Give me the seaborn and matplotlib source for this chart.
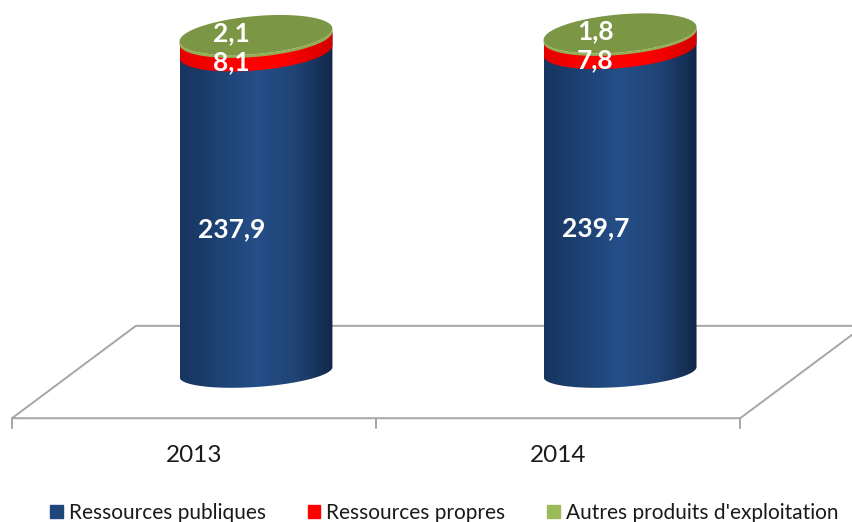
import numpy as np
import pandas as pd
import seaborn as sns
import matplotlib.pyplot as plt
from matplotlib.colors import LinearSegmentedColormap
from matplotlib.patches import Patch, Polygon

# data
years = ['2013', '2014']
series_names = ['Ressources publiques', 'Ressources propres', "Autres produits d'exploitation"]
publiques = [237.9, 239.7]
propres = [8.1, 7.8]
autres = [2.1, 1.8]
series_values = [publiques, propres, autres]

colors = ['#1f4679', '#ff0000', '#9bbb59']
label_shift = [-14, -14, 2.5]  # labels sit off-centre in the original

sns.set_theme(style='white')
plt.rcParams['font.family'] = ['Lato', 'DejaVu Sans']

fig = plt.figure(figsize=(8.52, 5.22), dpi=100)
ax = fig.add_axes([0, 0, 1, 1])
ax.axis('off')

df = pd.DataFrame({'year': years})
bottoms = np.zeros(len(years))
for name, vals, c in zip(series_names, series_values, colors):
    df[name] = vals
    sns.barplot(data=df, x='year', y=name, bottom=bottoms, color=c, width=0.42,
                saturation=1, ax=ax, zorder=2)
    bottoms = bottoms + np.array(vals)

XLIM = (-0.703, 1.637)
YLIM = (-110.4, 273.9)

# floor of the 3d chart
depth_x, depth_y = 0.17, 34
floor_color = '#a6a6a6'
left, right = -0.5, 1.5
ax.plot([left + depth_x, left - depth_x, right - depth_x, right + depth_x, left + depth_x],
        [depth_y, -depth_y, -depth_y, depth_y, depth_y], color=floor_color, lw=1.4, zorder=1)
for i in range(3):
    xt = left - depth_x + i
    ax.plot([xt, xt], [-depth_y, -depth_y - 7.5], color=floor_color, lw=1.4, zorder=1)
for i, year in enumerate(years):
    ax.text(i - depth_x, -61.5, year, ha='center', va='center', fontsize=17.5, color='#1a1a1a')

body_cmap = LinearSegmentedColormap.from_list(
    'body', ['#17345f', '#1d4273', '#254f88', '#204475', '#11284a'])
band_cmap = LinearSegmentedColormap.from_list(
    'band', ['#e80000', '#ff0000', '#ff0000', '#d40000'])


def ring(xc, half_w, level, t):
    # tilted ellipse, gets a bit flatter near the floor
    frac = level / 248
    b = 11 + 3 * frac
    tilt = 3.7 + 1.0 * frac
    return xc + half_w * np.cos(t), level + b * np.sin(t) + tilt * np.cos(t)


t_low = np.linspace(np.pi, 2 * np.pi, 80)
t_all = np.linspace(0, 2 * np.pi, 160)


def side(xc, half_w, lo, hi, cmap, z):
    x0, y0 = ring(xc, half_w, lo, t_low)
    x1, y1 = ring(xc, half_w, hi, t_low[::-1])
    poly = Polygon(np.column_stack([np.r_[x0, x1], np.r_[y0, y1]]), fc='none', ec='none',
                   transform=ax.transData)
    ax.add_patch(poly)
    im = ax.imshow(np.linspace(0, 1, 256)[None, :], cmap=cmap, aspect='auto', zorder=z,
                   extent=(xc - half_w, xc + half_w, lo - 30, hi + 30))
    im.set_clip_path(poly)


labels_white = dict(ha='center', va='center', color='white', fontsize=19, fontweight='bold', zorder=8)

for k in range(len(years)):
    bars = [cont[k] for cont in ax.containers]
    xc = bars[0].get_x() + bars[0].get_width() / 2
    half_w = bars[0].get_width() / 2
    for b in bars:
        b.set_visible(False)
    lo0, hi0 = bars[0].get_y(), bars[0].get_y() + bars[0].get_height()
    lo1, hi1 = bars[1].get_y(), bars[1].get_y() + bars[1].get_height()
    lo2, hi2 = bars[2].get_y(), bars[2].get_y() + bars[2].get_height()
    # body runs up under the red band so no gap shows between them
    side(xc, half_w, lo0, hi1, body_cmap, 3)
    side(xc, half_w, lo1 - 2, hi1 + 1, band_cmap, 4)
    x0, y0 = ring(xc, half_w, lo2, t_low)
    x1, y1 = ring(xc, half_w, hi2, t_low[::-1])
    ax.fill(np.r_[x0, x1], np.r_[y0, y1], color='#94ad55', lw=0, zorder=5)
    xt, yt = ring(xc, half_w, hi2, t_all)
    ax.fill(xt, yt, color='#7b9645', lw=0, zorder=6)
    for b, vals, shift in zip(bars, series_values, label_shift):
        ax.text(xc - 0.068, b.get_y() + b.get_height() / 2 + shift,
                f'{vals[k]:.1f}'.replace('.', ','), **labels_white)

ax.set_xlim(*XLIM)
ax.set_ylim(*YLIM)

handles = [Patch(color=c, label=n) for n, c in zip(series_names, colors)]
ax.legend(handles=handles, ncols=3, loc='lower left', bbox_to_anchor=(0.059, -0.002),
          frameon=False, fontsize=15, handlelength=0.6, handleheight=0.6, handletextpad=0.3,
          columnspacing=2.0, borderpad=0, borderaxespad=0, labelcolor='#1a1a1a')

fig.savefig('out.png', dpi=100)
